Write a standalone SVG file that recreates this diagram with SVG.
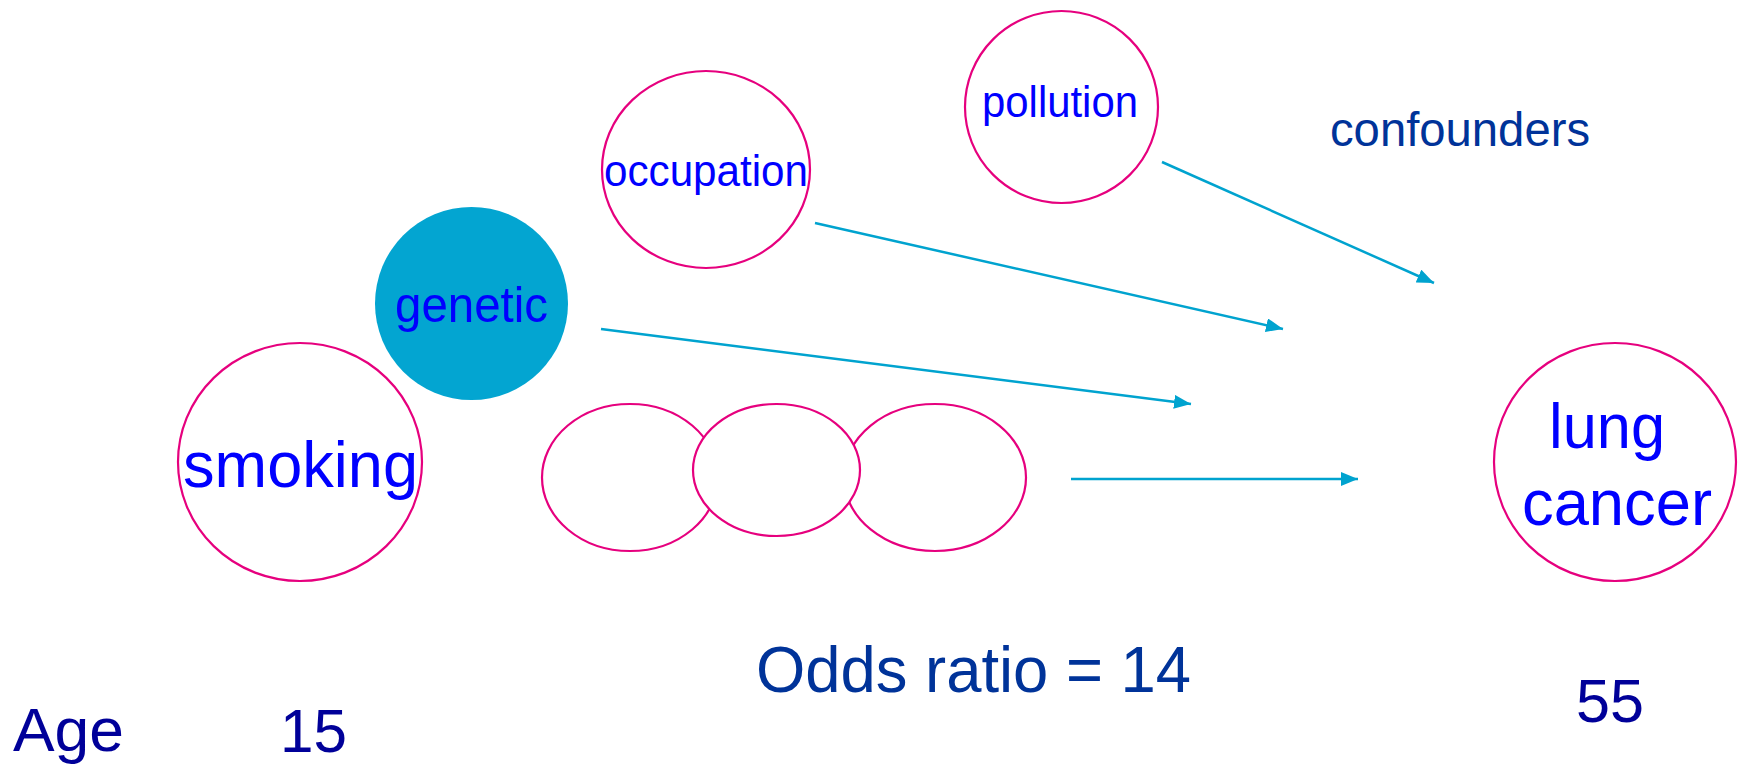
<svg xmlns="http://www.w3.org/2000/svg" width="1742" height="766" viewBox="0 0 1742 766">
<style>
.node{fill:#fff;stroke:#E6007E;stroke-width:2.2}
.lbl{font-family:"Liberation Sans",Arial,sans-serif;fill:#0000FF}
.dark{font-family:"Liberation Sans",Arial,sans-serif;fill:#003399}
.navy{font-family:"Liberation Sans",Arial,sans-serif;fill:#000099}
.conn{stroke:#00A3CF;stroke-width:2.5;fill:none;marker-end:url(#ah)}
</style>
<defs>
<marker id="ah" markerUnits="userSpaceOnUse" markerWidth="18" markerHeight="14" refX="17" refY="7" orient="auto">
<path d="M0,0 L17,7 L0,14 z" fill="#00A3CF"/>
</marker>
</defs>
<rect width="1742" height="766" fill="#fff"/>
<g id="connectors">
<line class="conn" x1="1162" y1="162" x2="1434" y2="283"/>
<line class="conn" x1="815" y1="223" x2="1283" y2="329"/>
<line class="conn" x1="601" y1="329" x2="1191" y2="404"/>
<line class="conn" x1="1071" y1="479" x2="1358" y2="479"/>
</g>
<g id="pollution">
<ellipse class="node" cx="1061.5" cy="107" rx="96.5" ry="96"/>
<text class="lbl" x="982" y="117" font-size="44" textLength="156" lengthAdjust="spacingAndGlyphs">pollution</text>
</g>
<g id="occupation">
<ellipse class="node" cx="706" cy="169.5" rx="104" ry="98.5"/>
<text class="lbl" x="604" y="186" font-size="44" textLength="204" lengthAdjust="spacingAndGlyphs">occupation</text>
</g>
<g id="genetic">
<circle cx="471.5" cy="303.5" r="96.5" fill="#03A5D1"/>
<text class="lbl" x="395" y="322" font-size="50" textLength="153" lengthAdjust="spacingAndGlyphs">genetic</text>
</g>
<g id="smoking">
<ellipse class="node" cx="300" cy="462" rx="122" ry="119"/>
<text class="lbl" x="183" y="487" font-size="64" textLength="235" lengthAdjust="spacingAndGlyphs">smoking</text>
</g>
<g id="chain">
<ellipse class="node" cx="630" cy="477.5" rx="88" ry="73.5"/>
<ellipse class="node" cx="935" cy="477.5" rx="91" ry="73.5"/>
<ellipse class="node" cx="776.5" cy="470" rx="83.5" ry="66"/>
</g>
<g id="lung-cancer">
<ellipse class="node" cx="1615" cy="462" rx="121" ry="119"/>
<text class="lbl" x="1549" y="448" font-size="63" textLength="116" lengthAdjust="spacingAndGlyphs">lung</text>
<text class="lbl" x="1522" y="525" font-size="64" textLength="190" lengthAdjust="spacingAndGlyphs">cancer</text>
</g>
<g id="labels">
<text class="dark" x="1330" y="146" font-size="48" textLength="260" lengthAdjust="spacingAndGlyphs">confounders</text>
<text class="dark" x="756" y="692" font-size="64" textLength="435" lengthAdjust="spacingAndGlyphs">Odds ratio = 14</text>
<text class="navy" x="13" y="751" font-size="62" textLength="111" lengthAdjust="spacingAndGlyphs">Age</text>
<text class="navy" x="280" y="752" font-size="62" textLength="67" lengthAdjust="spacingAndGlyphs">15</text>
<text class="navy" x="1576" y="722" font-size="62" textLength="68" lengthAdjust="spacingAndGlyphs">55</text>
</g>
</svg>
